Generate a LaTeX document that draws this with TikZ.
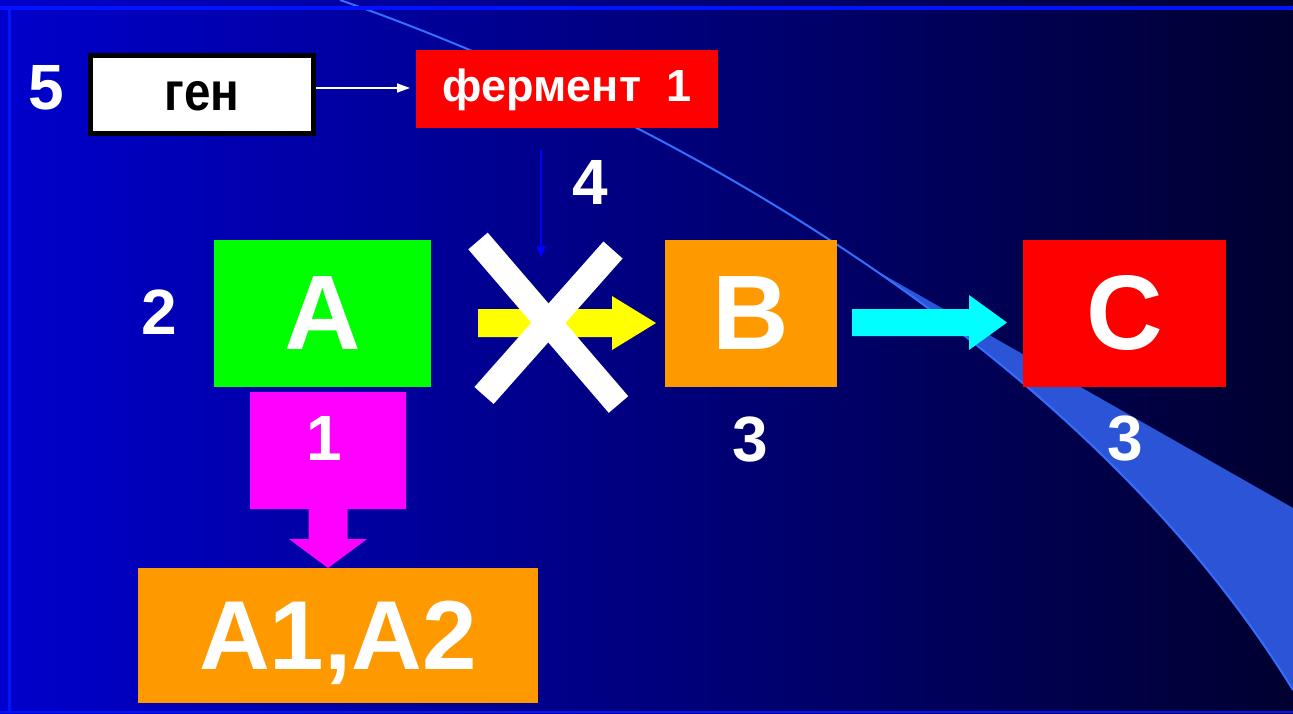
\documentclass[tikz,border=0pt]{standalone}
\usepackage{fontspec}
\setmainfont{Liberation Sans}
\usetikzlibrary{arrows.meta,calc}

\definecolor{bgL}{RGB}{0,0,204}
\definecolor{bgR}{RGB}{0,0,48}
\definecolor{frameblue}{RGB}{0,20,255}
\definecolor{bandfill}{RGB}{43,85,214}
\definecolor{bandedge}{RGB}{51,110,255}
\definecolor{boxgreen}{RGB}{0,255,0}
\definecolor{boxorange}{RGB}{255,153,0}
\definecolor{boxred}{RGB}{255,0,0}
\definecolor{arrmagenta}{RGB}{255,0,255}
\definecolor{arrcyan}{RGB}{0,255,255}
\definecolor{arryellow}{RGB}{255,255,0}
\definecolor{pointerblue}{RGB}{0,0,255}

\newcommand{\fsz}[1]{\fontsize{#1pt}{#1pt}\selectfont\bfseries}

\begin{document}
\begin{tikzpicture}[x=1pt,y=-1pt,
  letterbox/.style={rectangle, inner sep=0pt, outer sep=0pt, text=white,
    minimum height=147pt, font=\fsz{106}},
  numlabel/.style={inner sep=0pt, text=white, font=\fsz{64}, text depth=0pt},
  thinarrow/.style={line width=1.6pt, -{Triangle[length=12pt,width=9pt]}},
  crossbar/.style={white, line width=25.6pt, line cap=butt}]

% page and background
\useasboundingbox (0,0) rectangle (1293,713);
\shade[left color=bgL, right color=bgR] (0,0) rectangle (1293,713);

% sweeping band: one curve, widening into a wedge on the right
\fill[bandfill] (872.75,268.69) .. controls (1042.25,385.13) and (1193,527) .. (1293,690)
  -- (1293,508) -- cycle;
\draw[bandedge, line width=2pt] (340,0) .. controls (690,122.5) and (1093,364) .. (1293,690);

% frame lines
\draw[frameblue, line width=4pt] (0,8) -- (1293,8);
\draw[frameblue, line width=3pt] (9.5,8) -- (9.5,713);
\draw[frameblue, line width=2pt] (0,712) -- (1293,712);

% gene and enzyme
\node[draw=black, fill=white, line width=5pt, inner sep=0pt,
  minimum width=223pt, minimum height=78pt, text height=31pt, text depth=0pt,
  font=\fsz{54}] (gen) at (202,94.5) {\scalebox{0.88}[1]{ген}};
\node[fill=boxred, text=white, inner sep=0pt, outer sep=0pt,
  minimum width=302pt, minimum height=78pt, text height=24pt, text depth=0pt,
  font=\fsz{45}] (ferm) at (567,89) {фермент\ \ 1};
\draw[white, thinarrow, -{Triangle[length=13pt,width=9pt]}] (gen.east |- 0,88) -- ([xshift=-6pt]ferm.west |- 0,88);

% substances
\node[letterbox, fill=boxgreen, minimum width=217pt] (A) at (322.5,313.5) {A};
\node[letterbox, fill=boxorange, minimum width=172pt] (B) at (751,313.5) {B};
\node[letterbox, fill=boxred, minimum width=203pt] (C) at (1124.5,313.5) {C};
\node[letterbox, fill=boxorange, minimum width=400pt, minimum height=135pt,
  font=\fsz{98}, text depth=0pt] (A12) at (338,635.5) {A1,A2};

% numbers
\node[numlabel] (n5) at (46.5,87.5) {5};
\node[numlabel] (n4) at (590,182.5) {4};
\node[numlabel] (n2) at (159,312) {2};
\node[numlabel] (n3b) at (750,439) {3};
\node[numlabel] (n3c) at (1125.5,438.5) {3};

% enzyme acting on the blocked step
\coordinate (ptop) at (541,150);
\coordinate (pend) at (541,258);
\draw[pointerblue, thinarrow] (ptop) -- (pend);

% A -> B (blocked)
\coordinate (ys) at ($(A.east)+(47,9.5)$);
\coordinate (ye) at ($(B.west)+(-9,9.5)$);
\fill[arryellow] ($(ys)+(0,-14)$) -- ($(ye)+(-44,-14)$) -- ($(ye)+(-44,-27)$) -- (ye)
  -- ($(ye)+(-44,27)$) -- ($(ye)+(-44,14)$) -- ($(ys)+(0,14)$) -- cycle;

% cross over the blocked step
\coordinate (x1a) at (478,241);
\coordinate (x1b) at (618.5,404.5);
\coordinate (x2a) at (613,250);
\coordinate (x2b) at (484,395.5);
\draw[crossbar] (x1a) -- (x1b);
\draw[crossbar] (x2a) -- (x2b);

% B -> C
\coordinate (cs) at ($(B.east)+(15,9)$);
\coordinate (ce) at ($(C.west)+(-16,9)$);
\fill[arrcyan] ($(cs)+(0,-13.5)$) -- ($(ce)+(-38,-13.5)$) -- ($(ce)+(-38,-27.5)$) -- (ce)
  -- ($(ce)+(-38,27.5)$) -- ($(ce)+(-38,13.5)$) -- ($(cs)+(0,13.5)$) -- cycle;

% A -> A1,A2 (side branch)
\coordinate (ms) at (328,392);
\coordinate (me) at (328,568);
\fill[arrmagenta] ($(ms)+(-78,0)$) -- ($(ms)+(78,0)$) -- ($(ms)+(78,117)$)
  -- ($(ms)+(19.5,117)$) -- ($(me)+(19.5,-29)$) -- ($(me)+(39,-29)$) -- (me)
  -- ($(me)+(-39,-29)$) -- ($(me)+(-19.5,-29)$) -- ($(ms)+(-19.5,117)$)
  -- ($(ms)+(-78,117)$) -- cycle;
\node[numlabel] (n1) at (324,438.5) {1};

\end{tikzpicture}
\end{document}
